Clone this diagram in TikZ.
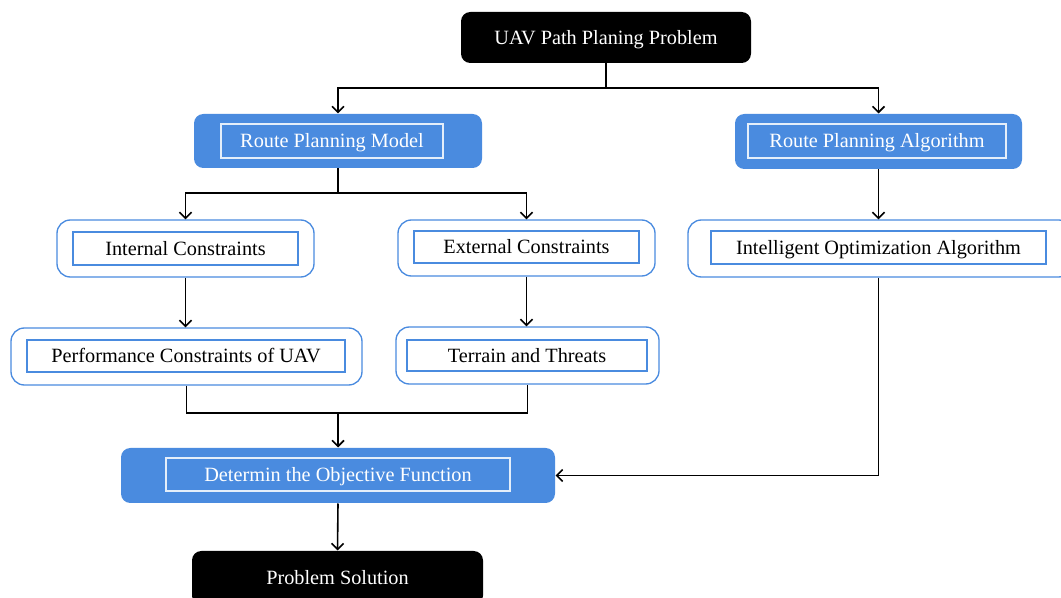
\documentclass[tikz,border=0pt]{standalone}
\usepackage{fontspec}
\setmainfont{Liberation Serif}
\usetikzlibrary{fit,arrows.meta}

\definecolor{boxblue}{RGB}{74,139,223}
\newcommand{\boxfont}{\fontsize{15.2}{18}\selectfont}

\tikzset{every picture/.style={line width=0.75pt}}
\tikzset{
  boxtext/.style={font=\boxfont, text height=10.3pt, text depth=0.3pt},
  darkbox/.style={boxtext, fill=black, rounded corners=7, inner sep=0pt, text=white},
  bluebox/.style={fill=boxblue, rounded corners=7, inner sep=0pt},
  bluetext/.style={boxtext, draw=white!85!boxblue, line width=1pt, inner sep=0pt, text=white},
  whitebox/.style={draw=boxblue, line width=1pt, rounded corners=10, inner sep=0pt},
  whitetext/.style={boxtext, draw=boxblue, line width=0.8pt, inner sep=0pt, text=black},
  arr/.style={line width=1.2pt, -{Straight Barb[length=4.5pt,width=9pt,line width=1.2pt]}},
  link/.style={line width=1.2pt}
}

\begin{document}
\begin{tikzpicture}[x=0.75pt,y=0.75pt,yscale=-1,xscale=1]
	\useasboundingbox (0,0) rectangle (1061,598);

	%Top box
	\node [darkbox, minimum width=217.5pt, minimum height=38.25pt] (problem) at (606,37.5) {UAV Path Planing Problem};
	%Blue boxes, second row
	\node [bluebox, fit={(194,114) (482,168)}] (model) {};
	\node [bluetext, minimum width=166.5pt, minimum height=25.5pt] (modeltxt) at (332,141) {Route Planning Model};
	\node [bluebox, fit={(735,114) (1022,169)}] (algo) {};
	\node [bluetext, minimum width=193.5pt, minimum height=25.5pt] (algotxt) at (877,141) {Route Planning Algorithm};
	%White boxes, third row
	\node [whitebox, fit={(57,220) (314,277)}] (internal) {};
	\node [whitetext, minimum width=168.75pt, minimum height=24.75pt] (internaltxt) at (185.5,248.5) {Internal Constraints};
	\node [whitebox, fit={(398,220) (655,276)}] (external) {};
	\node [whitetext, minimum width=168.75pt, minimum height=24pt] (externaltxt) at (526.5,247) {External Constraints};
	\node [whitebox, fit={(688,220) (1072,277)}] (intel) {};
	\node [whitetext, minimum width=251.25pt, minimum height=24.75pt] (inteltxt) at (878.5,247.5) {Intelligent Optimization Algorithm};
	%White boxes, fourth row
	\node [whitebox, fit={(11,328) (362,385)}] (perf) {};
	\node [whitetext, minimum width=238.5pt, minimum height=24pt] (perftxt) at (186,356) {Performance Constraints of UAV};
	\node [whitebox, fit={(396,327) (659,384)}] (terrain) {};
	\node [whitetext, minimum width=180pt, minimum height=23.25pt] (terraintxt) at (527,355.5) {Terrain and Threats};
	%Objective and solution
	\node [bluebox, fit={(121,448) (555,503)}] (objective) {};
	\node [bluetext, minimum width=258pt, minimum height=24.75pt] (objectivetxt) at (338,474.5) {Determin the Objective Function};
	\node [darkbox, minimum width=218.25pt, minimum height=40.5pt] (solution) at (337.5,578) {Problem Solution};

	%Connectors
	\coordinate (split1) at (606,88);
	\coordinate (split2) at (338,193);
	\coordinate (merge) at (338,413);
	\draw [arr] (problem.south) -- (split1) -| (model.north);
	\draw [arr] (split1) -| (algo.north);
	\draw [arr] (model.south) -- (split2) -| (internal.north);
	\draw [arr] (split2) -| (external.north);
	\draw [arr] (algo.south) -- (algo.south |- intel.north);
	\draw [arr] (internal.south) -- (internal.south |- perf.north);
	\draw [arr] (external.south) -- (external.south |- terrain.north);
	\draw [link] (perf.south) |- (merge) -| (terrain.south);
	\draw [arr] (merge) -- (objective.north);
	\draw [arr] (algo.south |- intel.south) |- (objective.east);
	\draw [arr] (objective.south) -- (solution.north);

\end{tikzpicture}
\end{document}
